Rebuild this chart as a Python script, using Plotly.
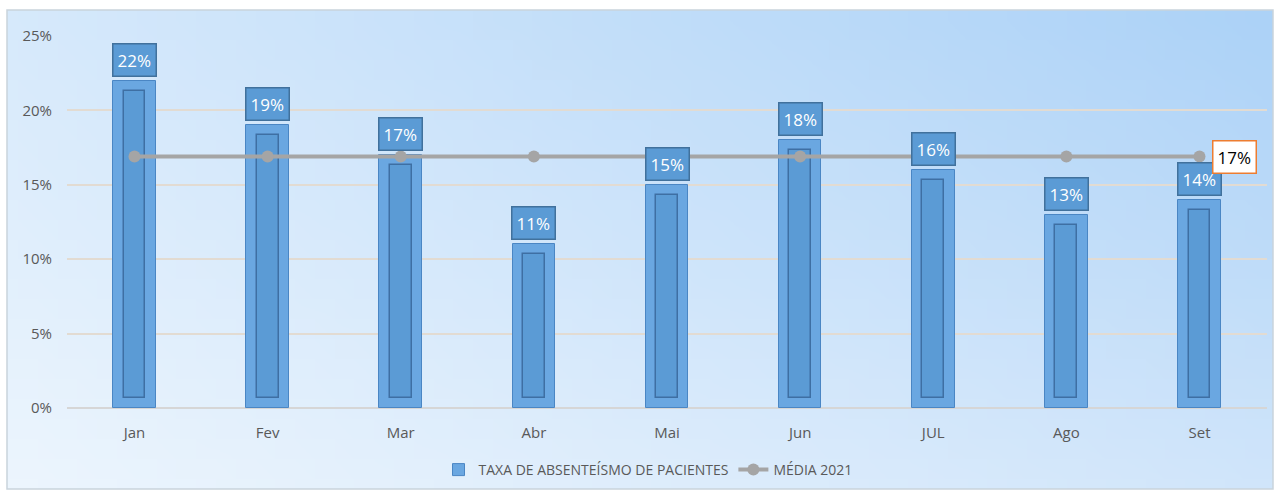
import base64, zlib, struct
import plotly.graph_objects as go

months = ["Jan", "Fev", "Mar", "Abr", "Mai", "Jun", "JUL", "Ago", "Set"]
taxa = [0.22, 0.19, 0.17, 0.11, 0.15, 0.18, 0.16, 0.13, 0.14]
media = [0.169] * 9
media_label = "17%"
bar_name = "TAXA DE ABSENTEÍSMO DE PACIENTES"
line_name = "MÉDIA 2021"

# ---- gradient background image (pure python PNG) ----
def make_png(w, h, tl, tr, bl, br):
    raw = b""
    for j in range(h):
        fy = j / (h - 1)
        raw += b"\x00"
        for i in range(w):
            fx = i / (w - 1)
            px = []
            for c in range(3):
                top = tl[c] * (1 - fx) + tr[c] * fx
                bot = bl[c] * (1 - fx) + br[c] * fx
                px.append(int(round(top * (1 - fy) + bot * fy)))
            raw += bytes(px)
    def chunk(t, d):
        c = struct.pack(">I", len(d)) + t + d
        return c + struct.pack(">I", zlib.crc32(t + d) & 0xffffffff)
    png = b"\x89PNG\r\n\x1a\n"
    png += chunk(b"IHDR", struct.pack(">IIBBBBB", w, h, 8, 2, 0, 0, 0))
    png += chunk(b"IDAT", zlib.compress(raw, 9))
    png += chunk(b"IEND", b"")
    return "data:image/png;base64," + base64.b64encode(png).decode()

bg = make_png(64, 24, (214, 233, 251), (172, 210, 247), (236, 245, 253), (208, 229, 250))

# plot area geometry (pixels) for paper coords
L, R, T, B = 67, 9, 36, 85
W, H = 1276, 493
pw, ph = W - L - R, H - T - B
def px_x(x):
    return (x - L) / pw
def px_y(y):
    return (H - B - y) / ph

FONT = "Open Sans"

fig = go.Figure()

fig.add_trace(go.Bar(
    x=months, y=taxa, name=bar_name, width=0.32,
    marker=dict(color="#6aa7e1", line=dict(color="#4a86c4", width=1)),
    showlegend=True,
))
inset = 0.0068
fig.add_trace(go.Bar(
    x=months, y=[v - 2 * inset for v in taxa], base=inset, width=0.165,
    marker=dict(color="#5b9bd5", line=dict(color="#3e6fa3", width=1.5)),
    showlegend=False, hoverinfo="skip",
))
fig.add_trace(go.Scatter(
    x=months, y=media, name=line_name, mode="lines+markers",
    line=dict(color="#a5a5a5", width=4),
    marker=dict(color="#a5a5a5", size=12),
))

annotations = []
for m, v in zip(months, taxa):
    annotations.append(dict(
        x=m, y=v, text=f"{round(v*100)}%", showarrow=False,
        yanchor="bottom", yshift=4,
        font=dict(family=FONT, size=17, color="white"),
        bgcolor="#5b9bd5", bordercolor="#41719c", borderwidth=1.5, borderpad=4,
    ))
annotations.append(dict(
    x=months[-1], y=media[-1], text=media_label, showarrow=False,
    xanchor="left", xshift=12, yshift=0,
    font=dict(family=FONT, size=17, color="black"),
    bgcolor="white", bordercolor="#ed7d31", borderwidth=1.5, borderpad=4,
))

fig.update_layout(
    width=W, height=H,
    margin=dict(l=L, r=R, t=T, b=B, autoexpand=False),
    paper_bgcolor="white", plot_bgcolor="rgba(0,0,0,0)",
    barmode="overlay",
    font=dict(family=FONT, size=14, color="#595959"),
    images=[dict(
        source=bg, xref="paper", yref="paper",
        x=px_x(7), y=px_y(10), sizex=px_x(1273) - px_x(7), sizey=px_y(10) - px_y(489),
        xanchor="left", yanchor="top", sizing="stretch", layer="below",
    )],
    shapes=[dict(
        type="rect", xref="paper", yref="paper",
        x0=px_x(7), x1=px_x(1273), y0=px_y(489), y1=px_y(10),
        line=dict(color="#c9d3dc", width=1.5), layer="below",
    )],
    annotations=annotations,
    legend=dict(
        orientation="h", x=px_x(648), xanchor="center", y=px_y(470), yanchor="middle",
        font=dict(size=14, color="#595959"), bgcolor="rgba(0,0,0,0)",
    ),
    showlegend=True,
    bargap=0,
)
fig.update_yaxes(
    range=[0, 0.25], dtick=0.05, tickformat=".0%",
    gridcolor="#e2dbd2", gridwidth=1.5,
    zeroline=True, zerolinecolor="#d6d6d6", zerolinewidth=1.5,
    ticklabelstandoff=14, tickfont=dict(size=15, color="#595959"),
    showline=False,
)
fig.update_xaxes(
    ticklabelstandoff=14, tickfont=dict(size=15, color="#595959"),
    showline=False, showgrid=False,
)

fig.write_html("out.html", config={"displayModeBar": False},
               post_script="document.body.style.margin='0';")
